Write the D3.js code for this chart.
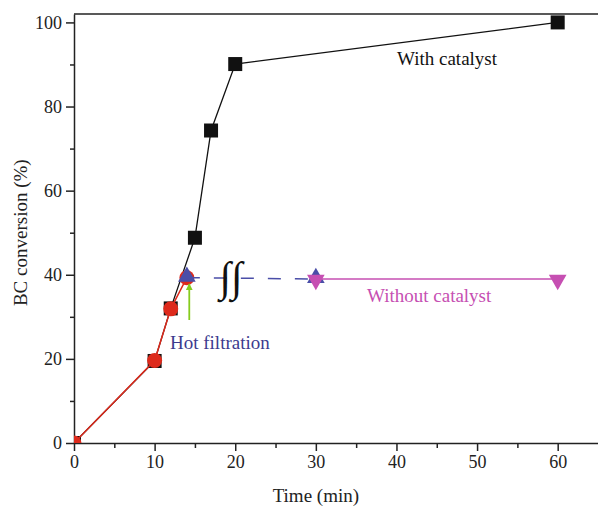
<!DOCTYPE html>
<html>
<head>
<meta charset="utf-8">
<script src="https://cdn.jsdelivr.net/npm/d3@7"></script>
<style>
  body { margin: 0; background: #fff; }
  text { font-family: "Liberation Serif", "DejaVu Serif", serif; }
</style>
</head>
<body>
<div id="chart"></div>
<script>
// with catalyst (black squares)
const catTime = [0, 10, 12, 15, 17, 20, 60];
const catConv = [0, 19.5, 32, 48.8, 74.3, 90.1, 100];
// before hot filtration (red circles)
const hotTime = [0, 10, 12, 14];
const hotConv = [0, 19.6, 31.9, 39.3];
// after filtration (blue triangles, dashed)
const filtTime = [14, 30];
const filtConv = [39.3, 39.0];
// without catalyst (pink down triangles)
const noCatTime = [30, 60];
const noCatConv = [39.0, 39.0];

const xTicks = [0, 10, 20, 30, 40, 50, 60];
const yTicks = [0, 20, 40, 60, 80, 100];

const width = 598, height = 507;
const margin = {top: 14, right: 0, bottom: 64, left: 74};

const svg = d3.select("#chart").append("svg")
  .attr("width", width)
  .attr("height", height);

const x = d3.scaleLinear().domain([0, 65]).range([margin.left, width - margin.right]);
const y = d3.scaleLinear().domain([0, 102]).range([height - margin.bottom, margin.top]);

svg.append("defs").append("clipPath").attr("id", "plot")
  .append("rect")
  .attr("x", margin.left).attr("y", margin.top)
  .attr("width", width - margin.left - margin.right)
  .attr("height", height - margin.top - margin.bottom);

// axes
svg.append("g")
  .attr("transform", `translate(0,${y(0)})`)
  .call(d3.axisBottom(x).tickValues(xTicks).tickSize(8).tickSizeOuter(0).tickPadding(4));
svg.append("g")
  .attr("transform", `translate(0,${y(0)})`)
  .call(d3.axisBottom(x).tickValues(d3.range(5, 65, 10)).tickSize(5).tickFormat(""))
  .select(".domain").remove();

svg.append("g")
  .attr("transform", `translate(${x(0)},0)`)
  .call(d3.axisLeft(y).tickValues(yTicks).tickSize(8).tickSizeOuter(0).tickPadding(4));
svg.append("g")
  .attr("transform", `translate(${x(0)},0)`)
  .call(d3.axisLeft(y).tickValues(d3.range(10, 101, 20)).tickSize(4).tickFormat(""))
  .select(".domain").remove();

svg.selectAll(".tick text").style("font-size", "18px").attr("fill", "#222");
svg.selectAll(".domain, .tick line").attr("stroke", "#222").attr("stroke-width", 1.5);

// top frame line
svg.append("line")
  .attr("x1", x(0)).attr("x2", width)
  .attr("y1", margin.top).attr("y2", margin.top)
  .attr("stroke", "#222").attr("stroke-width", 1.5);

// axis titles
svg.append("text")
  .attr("x", (x(0) + x(60)) / 2)
  .attr("y", 502)
  .attr("text-anchor", "middle")
  .style("font-size", "19px")
  .attr("fill", "#222")
  .text("Time (min)");

svg.append("text")
  .attr("transform", `translate(27,${(y(0) + y(100)) / 2}) rotate(-90)`)
  .attr("text-anchor", "middle")
  .style("font-size", "19px")
  .attr("fill", "#222")
  .text("BC conversion (%)");

const plot = svg.append("g").attr("clip-path", "url(#plot)");
const line = d3.line().x(d => x(d[0])).y(d => y(d[1]));
const zip = (a, b) => a.map((v, i) => [v, b[i]]);

const catData = zip(catTime, catConv);
const hotData = zip(hotTime, hotConv);
const filtData = zip(filtTime, filtConv);
const noCatData = zip(noCatTime, noCatConv);

const blue = "#4a4ea8", pink = "#c64fb2", red = "#dd2a1c";

// black line + squares
plot.append("path").datum(catData).attr("d", line)
  .attr("fill", "none").attr("stroke", "#111").attr("stroke-width", 1.3);
plot.selectAll(".sq").data(catData).join("rect")
  .attr("class", "sq")
  .attr("x", d => x(d[0]) - 7).attr("y", d => y(d[1]) - 7)
  .attr("width", 14).attr("height", 14)
  .attr("fill", "#111");

// red line + circles
plot.append("path").datum(hotData).attr("d", line)
  .attr("fill", "none").attr("stroke", red).attr("stroke-width", 1.5);
plot.selectAll(".ci").data(hotData).join("circle")
  .attr("class", "ci")
  .attr("cx", d => x(d[0])).attr("cy", d => y(d[1]))
  .attr("r", 7.5)
  .attr("fill", red);

// blue dashed + up triangles
plot.append("path").datum(filtData).attr("d", line)
  .attr("fill", "none").attr("stroke", blue).attr("stroke-width", 1.5)
  .attr("stroke-dasharray", "13,14");
const tri = d3.symbol().type(d3.symbolTriangle).size(135);
plot.selectAll(".tu").data(filtData).join("path")
  .attr("class", "tu")
  .attr("transform", d => `translate(${x(d[0])},${y(d[1]) - 1})`)
  .attr("d", tri)
  .attr("fill", blue);

// pink line + down triangles
plot.append("path").datum(noCatData).attr("d", line)
  .attr("fill", "none").attr("stroke", pink).attr("stroke-width", 1.5);
plot.selectAll(".td").data(noCatData).join("path")
  .attr("class", "td")
  .attr("transform", d => `translate(${x(d[0])},${y(d[1]) + 1}) rotate(180)`)
  .attr("d", tri)
  .attr("fill", pink);

// break symbol
svg.append("text")
  .attr("x", 231).attr("y", 291)
  .attr("text-anchor", "middle")
  .style("font-size", "42px")
  .attr("fill", "#111")
  .text("∫∫");

// green arrow
svg.append("defs").append("marker")
  .attr("id", "ah").attr("viewBox", "0 0 10 10")
  .attr("refX", 9).attr("refY", 5)
  .attr("markerWidth", 7).attr("markerHeight", 7)
  .attr("markerUnits", "userSpaceOnUse")
  .attr("orient", "auto")
  .append("path").attr("d", "M0,0L10,5L0,10Z").attr("fill", "#86cc1e");
svg.append("line")
  .attr("x1", x(14.3)).attr("x2", x(14.3))
  .attr("y1", 320).attr("y2", 284)
  .attr("stroke", "#86cc1e").attr("stroke-width", 1.8)
  .attr("marker-end", "url(#ah)");

// annotations
svg.append("text").attr("x", 170).attr("y", 349)
  .style("font-size", "19px").attr("fill", "#3c3a8e")
  .text("Hot filtration");
svg.append("text").attr("x", 397).attr("y", 65)
  .style("font-size", "19px").attr("fill", "#111")
  .text("With catalyst");
svg.append("text").attr("x", 367).attr("y", 302)
  .style("font-size", "19px").attr("fill", pink)
  .text("Without catalyst");
</script>
</body>
</html>
